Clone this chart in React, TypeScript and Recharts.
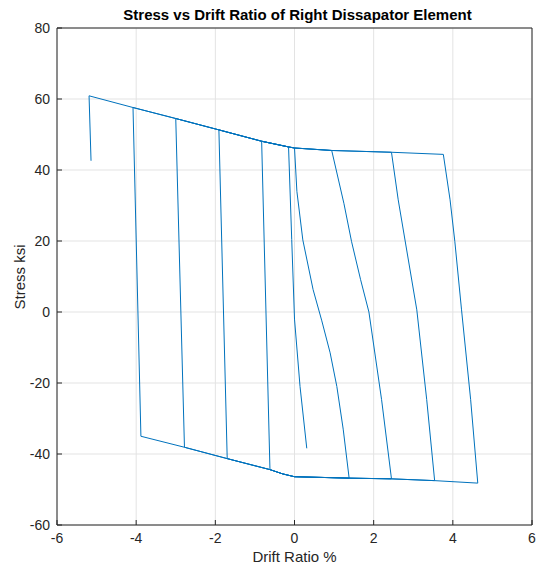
import { LineChart, Line, XAxis, YAxis, CartesianGrid } from 'recharts'

const xTicks = [-6, -4, -2, 0, 2, 4, 6]
const yTicks = [-60, -40, -20, 0, 20, 40, 60, 80]

// hysteresis path, in loading order
const driftRatio = [
  0.31, 0.14, 0.0, -0.07, -0.15,
  -0.83,
  -0.62,
  -0.3, 0, 1.38,
  1.23, 1.07, 0.90, 0.69, 0.47, 0.21, 0.06, 0,
  -0.15, -0.83, -1.91,
  -1.70,
  -0.62, -0.3, 0, 1.38, 2.45,
  2.20, 1.88, 1.67, 1.44, 1.25, 0.94,
  0, -0.15, -0.83, -1.91, -3.0,
  -2.78,
  -1.70, -0.62, -0.3, 0, 1.38, 2.45, 3.54,
  3.34, 3.09, 2.62, 2.45,
  0.94, 0, -0.15, -0.83, -1.91, -3.0, -4.08,
  -3.88,
  -2.78, -1.70, -0.62, -0.3, 0, 1.38, 2.45, 3.54, 4.63,
  4.45, 4.22, 4.05, 3.93, 3.76,
  2.45, 0.94, 0, -0.15, -0.83, -1.91, -3.0, -4.08, -5.19,
  -5.14,
]

const stress = [
  -38.4, -21, -2, 20.4, 46.5,
  48.1,
  -44.4,
  -45.6, -46.4, -46.8,
  -33, -21, -11.5, -2.5, 6.3, 20.3, 34, 46.2,
  46.5, 48.1, 51.3,
  -41.3,
  -44.4, -45.6, -46.4, -46.8, -47,
  -24.7, 0, 9.1, 19.9, 30.5, 45.5,
  46.2, 46.5, 48.1, 51.3, 54.5,
  -38.1,
  -41.3, -44.4, -45.6, -46.4, -46.8, -47, -47.5,
  -24.7, 0.6, 31.6, 45,
  45.5, 46.2, 46.5, 48.1, 51.3, 54.5, 57.6,
  -35,
  -38.1, -41.3, -44.4, -45.6, -46.4, -46.8, -47, -47.5, -48.2,
  -24.7, 0.6, 19.9, 31.6, 44.4,
  45, 45.5, 46.2, 46.5, 48.1, 51.3, 54.5, 57.6, 60.9,
  42.6,
]

const points = driftRatio.map((x, i) => ({ x, y: stress[i] }))

const axisColor = '#262626'
const font = 'Liberation Sans, Arial, sans-serif'

export default function App() {
  return (
    <div style={{ position: 'absolute', left: 0, top: 0, width: 539, height: 571, background: '#fff', fontFamily: font }}>
      <div style={{
        position: 'absolute', left: 60, width: 475, top: 6, textAlign: 'center',
        fontWeight: 'bold', fontSize: 15, color: '#000', whiteSpace: 'nowrap',
      }}>
        Stress vs Drift Ratio of Right Dissapator Element
      </div>
      <LineChart width={539} height={571} data={points} margin={{ top: 0, right: 0, bottom: 0, left: 0 }}>
        <CartesianGrid stroke="#e3e3e3" strokeWidth={1} />
        <XAxis
          dataKey="x" type="number" domain={[-6, 6]} ticks={xTicks} height={46}
          stroke={axisColor} tickSize={-5} tickMargin={13}
          tick={{ fontSize: 14, fill: axisColor, fontFamily: font }}
        />
        <XAxis
          xAxisId="top" orientation="top" dataKey="x" type="number" domain={[-6, 6]} ticks={xTicks}
          height={28} stroke={axisColor} tickSize={-5} tick={false}
        />
        <YAxis
          type="number" domain={[-60, 80]} ticks={yTicks} width={57}
          stroke={axisColor} tickSize={-5} tickMargin={12}
          tick={{ fontSize: 14, fill: axisColor, fontFamily: font }}
        />
        <YAxis
          yAxisId="right" orientation="right" type="number" domain={[-60, 80]} ticks={yTicks}
          width={7} stroke={axisColor} tickSize={-5} tick={false}
        />
        <Line
          dataKey="y" type="linear" stroke="#0072BD" strokeWidth={1}
          dot={false} isAnimationActive={false}
        />
      </LineChart>
      <div style={{ position: 'absolute', left: 57, width: 475, top: 548, textAlign: 'center', fontSize: 15, color: axisColor }}>
        Drift Ratio %
      </div>
      <div style={{
        position: 'absolute', left: 19, top: 277, fontSize: 15, color: axisColor,
        transform: 'translate(-50%, -50%) rotate(-90deg)', whiteSpace: 'nowrap',
      }}>
        Stress ksi
      </div>
    </div>
  )
}
